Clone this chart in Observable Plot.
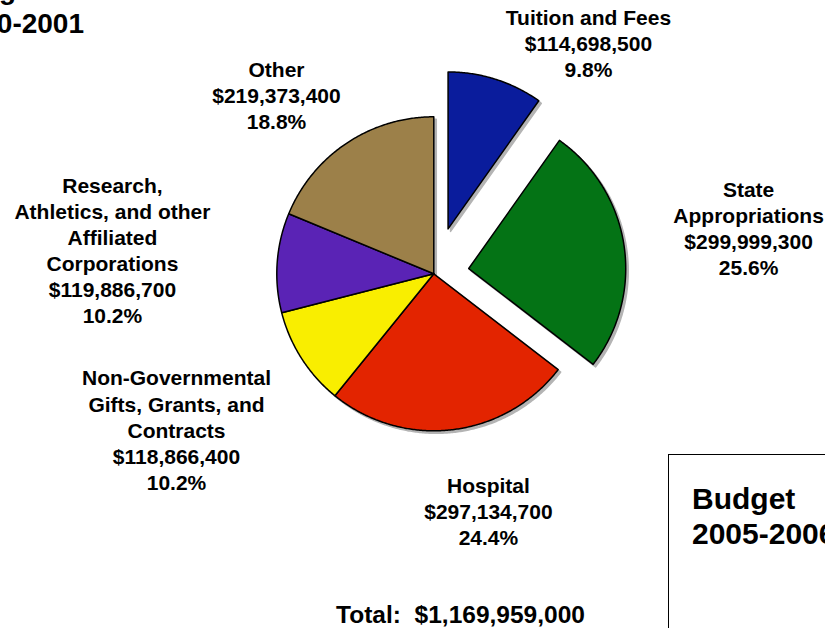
<!DOCTYPE html>
<html>
<head>
<meta charset="utf-8">
<script src="https://cdn.jsdelivr.net/npm/d3@7"></script>
<script src="https://cdn.jsdelivr.net/npm/@observablehq/plot@0.6"></script>
<style>
  html, body { margin: 0; padding: 0; background: #fff; overflow: hidden; }
  body { width: 825px; height: 628px; position: relative; font-family: "Liberation Sans", Arial, sans-serif; }
  #chart { position: absolute; left: 0; top: 0; }
  .title { position: absolute; font-weight: bold; font-size: 28px; white-space: nowrap; text-align: right; color: #000; line-height: 1; }
  #box { position: absolute; left: 668px; top: 454px; width: 300px; height: 300px; border: 1.5px solid #000; box-sizing: border-box; }
  #box div { position: absolute; left: 23px; font-weight: bold; font-size: 30px; white-space: nowrap; line-height: 1; }
</style>
</head>
<body>
<div class="title" style="left:-300px; width:316px; top:-24px;">Funding</div>
<div class="title" style="left:-300px; width:384px; top:10px;">2000-2001</div>
<div id="box"><div style="top:28.5px;">Budget</div><div style="top:63.5px;">2005-2006</div></div>
<div id="chart"></div>
<script>
// ---- data ----
const categories = [
  "Tuition and Fees",
  "State Appropriations",
  "Hospital",
  "Non-Governmental Gifts, Grants, and Contracts",
  "Research, Athletics, and other Affiliated Corporations",
  "Other"
];
const amounts = [114698500, 299999300, 297134700, 118866400, 119886700, 219373400];
const amountLabels = ["$114,698,500", "$299,999,300", "$297,134,700", "$118,866,400", "$119,886,700", "$219,373,400"];
const percentLabels = ["9.8%", "25.6%", "24.4%", "10.2%", "10.2%", "18.8%"];
const nameLines = [
  ["Tuition and Fees"],
  ["State", "Appropriations"],
  ["Hospital"],
  ["Non-Governmental", "Gifts, Grants, and", "Contracts"],
  ["Research,", "Athletics, and other", "Affiliated", "Corporations"],
  ["Other"]
];
const totalLabel = "Total:  $1,169,959,000";

// ---- styling / layout (not data) ----
const colors = ["#0a1c9c", "#047315", "#e32400", "#f9ee00", "#5a23b5", "#9c8049"];
const explode = [0.30, 0.225, 0, 0, 0, 0];           // in pie-radius units
const labelPos = [                                    // block centers, pie-radius units
  [0.985, -1.471], [2.005, -0.295], [0.348, 1.510],
  [-1.639, 0.990], [-2.047, -0.155], [-1.002, -1.139]
];
const totalPos = [0.170, 2.173];
const cx = 433.3, cy = 273.3, R = 157;

// ---- geometry from data ----
const total = d3.sum(amounts);
const pts = [];
let acc = 0;
amounts.forEach((v, i) => {
  const a0 = acc / total * 2 * Math.PI;
  acc += v;
  const a1 = acc / total * 2 * Math.PI;
  const mid = (a0 + a1) / 2;
  const ox = explode[i] * Math.sin(mid), oy = -explode[i] * Math.cos(mid);
  pts.push({i, cat: categories[i], x: ox, y: oy});
  const n = Math.max(4, Math.ceil((a1 - a0) / (Math.PI / 360)));
  for (let k = 0; k <= n; k++) {
    const a = a0 + (a1 - a0) * k / n;
    pts.push({i, cat: categories[i], x: ox + Math.sin(a), y: oy - Math.cos(a)});
  }
});

const labels = categories.map((c, i) => ({
  x: labelPos[i][0], y: labelPos[i][1],
  text: [...nameLines[i], amountLabels[i], percentLabels[i]].join("\n")
}));

const chart = Plot.plot({
  width: 825,
  height: 628,
  margin: 0,
  x: {axis: null, domain: [-1, 1], range: [cx - R, cx + R]},
  y: {axis: null, domain: [-1, 1], range: [cy - R, cy + R]},
  color: {type: "ordinal", domain: categories, range: colors},
  style: {fontFamily: "'Liberation Sans', Arial, sans-serif", background: "transparent"},
  marks: [
    Plot.line(pts, {x: "x", y: "y", z: "cat", curve: "linear-closed", fill: "#b4b4b4", stroke: "#b4b4b4", strokeWidth: 1.5, dx: 2.5, dy: 2.5}),
    Plot.line(pts, {x: "x", y: "y", z: "cat", curve: "linear-closed", fill: "cat", stroke: "#000", strokeWidth: 1.5, strokeLinejoin: "round"}),
    Plot.text(labels, {x: "x", y: "y", text: "text", fontSize: 21, fontWeight: "bold", lineHeight: 1.24, fill: "#000"}),
    Plot.text([totalLabel], {x: () => totalPos[0], y: () => totalPos[1], text: d => d, fontSize: 24.5, fontWeight: "bold", fill: "#000"})
  ]
});
document.getElementById("chart").appendChild(chart);
</script>
</body>
</html>
